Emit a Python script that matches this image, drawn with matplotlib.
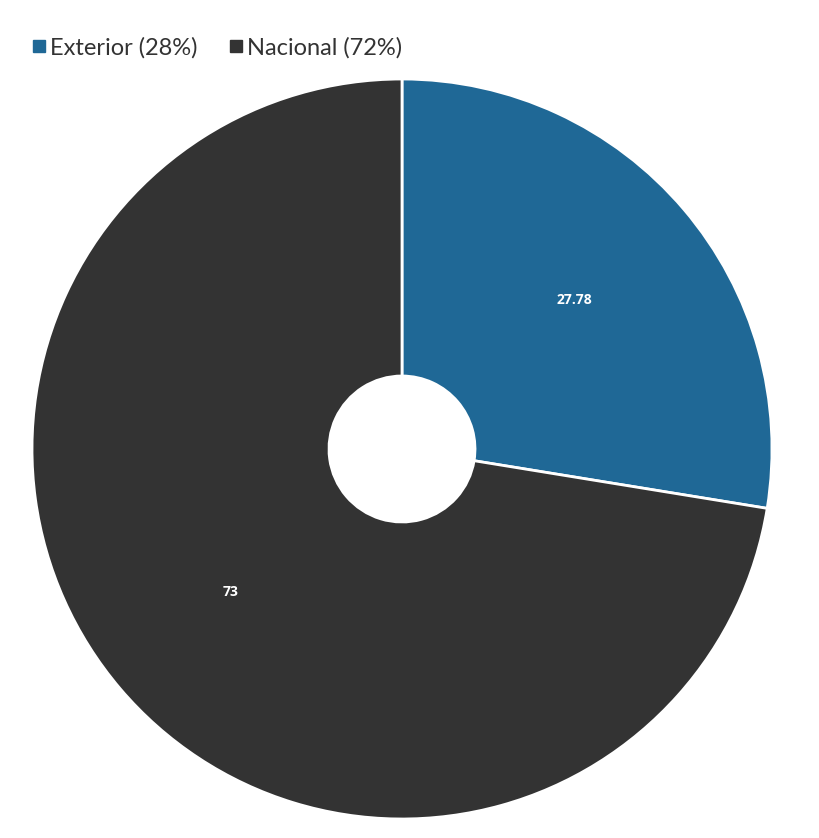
import numpy as np
import matplotlib.pyplot as plt
from matplotlib.lines import Line2D

plt.rcParams['font.family'] = ['Lato', 'DejaVu Sans']

categories = ['Exterior', 'Nacional']
values = [27.78, 73]
value_labels = ['27.78', '73']
legend_pct = ['28%', '72%']
colors = ['#1f6896', '#333333']

fig = plt.figure(figsize=(8.2, 8.38), dpi=100)
ax = fig.add_axes([32 / 820, 19 / 838, 740 / 820, 740 / 838])

wedges, _ = ax.pie(values, colors=colors, startangle=90, counterclock=False,
                   radius=1.0,
                   wedgeprops=dict(width=1 - 73 / 370, edgecolor='white', linewidth=2))

# value labels inside slices
for w, lab in zip(wedges, value_labels):
    ang = np.deg2rad((w.theta1 + w.theta2) / 2)
    ax.text(0.61 * np.cos(ang), 0.61 * np.sin(ang) + 0.008, lab, color='white',
            fontsize=10, fontweight='bold', family=['Open Sans', 'DejaVu Sans'],
            ha='center', va='center')

ax.set_xlim(-1, 1)
ax.set_ylim(-1, 1)
ax.set_aspect('equal')
ax.axis('off')

handles = [Line2D([0], [0], marker='s', linestyle='none', markersize=9,
                  markerfacecolor=c, markeredgecolor=c) for c in colors]
labels = [f'{c} ({p})' for c, p in zip(categories, legend_pct)]
fig.legend(handles, labels, loc='upper left', bbox_to_anchor=(32 / 820, 1 - 37 / 838),
           ncol=2, frameon=False, fontsize=17, handletextpad=0.15, columnspacing=1.35,
           handlelength=0.6, labelcolor='#333333', borderaxespad=0, borderpad=0)

fig.savefig('out.png', dpi=100)
